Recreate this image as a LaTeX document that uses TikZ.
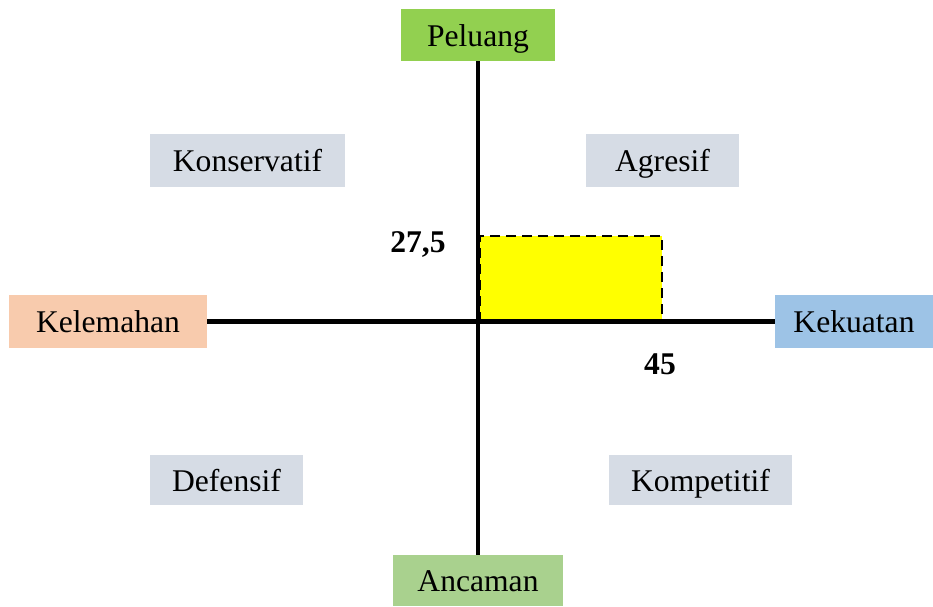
\documentclass[tikz,border=0pt]{standalone}
\usepackage{fontspec}
\setmainfont{Liberation Serif}
\definecolor{peluangcol}{HTML}{92D050}
\definecolor{ancamancol}{HTML}{A9D18E}
\definecolor{lemahcol}{HTML}{F8CBAD}
\definecolor{kuatcol}{HTML}{9DC3E6}
\definecolor{kuadcol}{HTML}{D6DCE5}
\definecolor{kuning}{HTML}{FFFF00}
\begin{document}
\begin{tikzpicture}[x=0.5pt,y=-0.5pt,line join=miter,font=\fontsize{15.8}{18}\selectfont,
	kotak/.style={inner sep=0pt,minimum height=26pt,text height=11.4pt,text depth=0pt},
	kuadran/.style={kotak,fill=kuadcol},
	sumbu/.style={line width=2.3pt}]
		\useasboundingbox (0,0) rectangle (933,606);
		\node[kotak,fill=peluangcol,minimum width=77pt] (peluang) at (478,35) {Peluang};
		\node[kotak,fill=ancamancol,minimum width=85pt,minimum height=25.5pt] (ancaman) at (478,580.5) {Ancaman};
		\node[kotak,fill=lemahcol,minimum width=99pt,minimum height=26.5pt] (kelemahan) at (108,321.5) {Kelemahan};
		\node[kotak,fill=kuatcol,minimum width=79pt,minimum height=26.5pt] (kekuatan) at (854,321.5) {Kekuatan};
		\node[kuadran,minimum width=97.5pt,minimum height=26.5pt] (konservatif) at (247.5,160.5) {Konservatif};
		\node[kuadran,minimum width=76.5pt,minimum height=26.5pt] (agresif) at (662.5,160.5) {Agresif};
		\node[kuadran,minimum width=76.5pt,minimum height=25pt] (defensif) at (226.5,480) {Defensif};
		\node[kuadran,minimum width=91.5pt,minimum height=25pt] (kompetitif) at (700.5,480) {Kompetitif};
		\coordinate (o) at (480,322);
		\coordinate (p) at (662,236);
		\draw[fill=kuning,line width=1.4pt,dash pattern=on 5pt off 3pt] (o) rectangle (p);
		\draw[sumbu] (peluang) -- (ancaman);
		\draw[sumbu] (kelemahan) -- (kekuatan);
		\node[font=\fontsize{15.8}{18}\selectfont\bfseries] (nilaiy) at (418,244) {27,5};
		\node[font=\fontsize{15.8}{18}\selectfont\bfseries] (nilaix) at (660,364) {45};
		\end{tikzpicture}
\end{document}
